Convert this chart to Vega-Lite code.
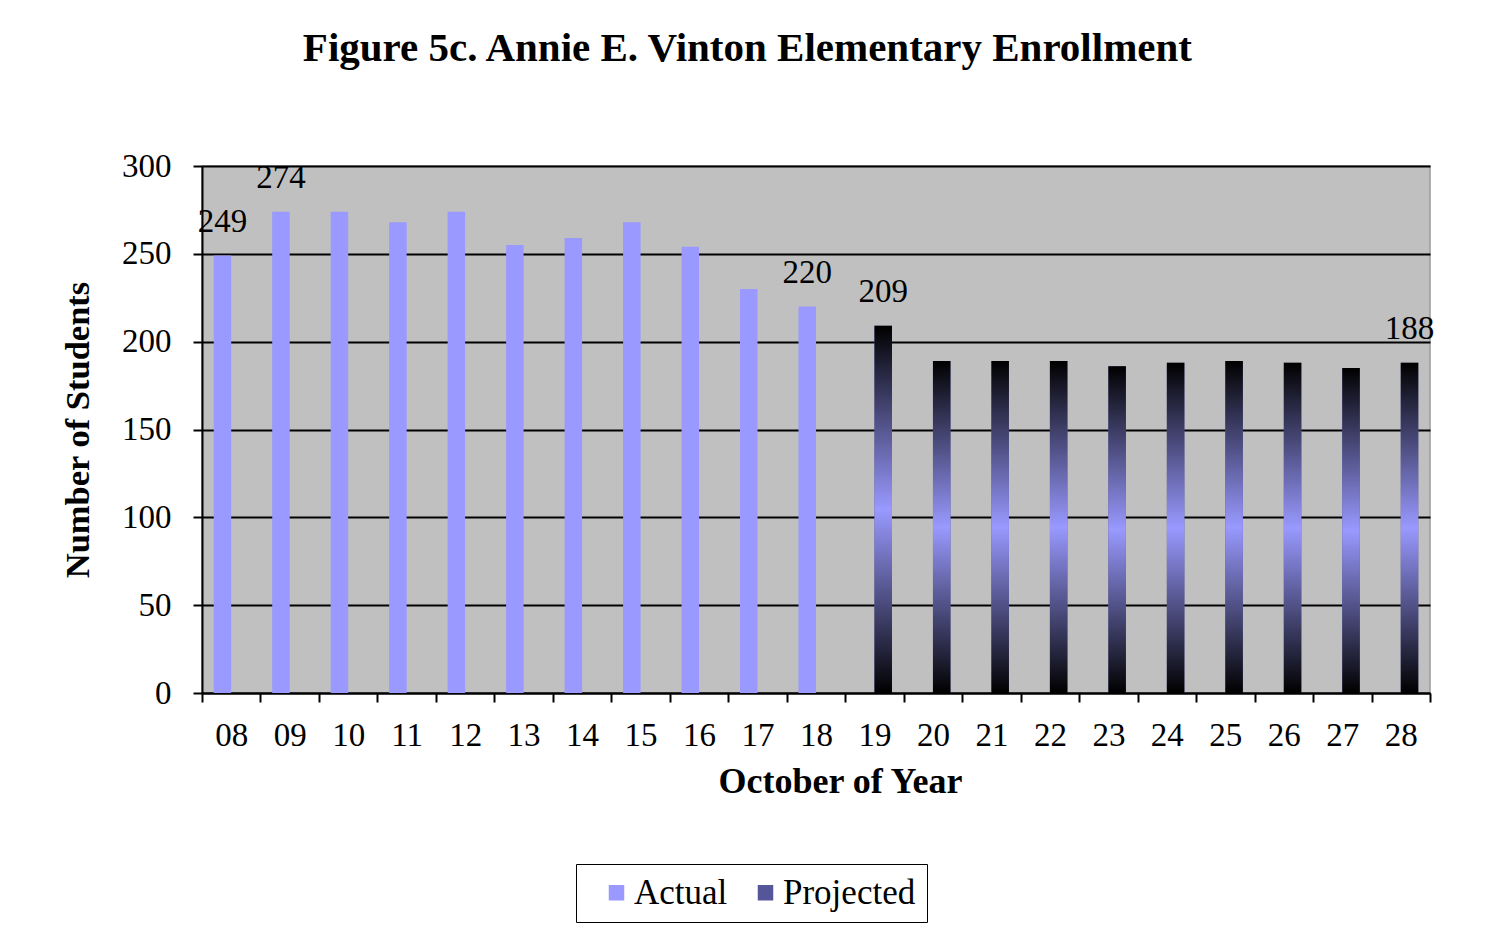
{
  "$schema": "https://vega.github.io/schema/vega-lite/v6.json",
  "width": 1228,
  "height": 527,
  "padding": {"left": 60, "top": 28, "right": 50, "bottom": 10},
  "background": "white",
  "title": {
    "text": "Figure 5c. Annie E. Vinton Elementary Enrollment",
    "font": "Liberation Serif",
    "fontSize": 41,
    "fontWeight": "bold",
    "color": "black",
    "anchor": "middle",
    "frame": "bounds",
    "offset": 80
  },
  "config": {
    "font": "Liberation Serif",
    "view": {"fill": "#C0C0C0", "stroke": "#9a9a9a", "strokeWidth": 1.5}
  },
  "data": {
    "values": [
      {"year": "08", "series": "Actual", "value": 249, "show": true},
      {"year": "09", "series": "Actual", "value": 274, "show": true},
      {"year": "10", "series": "Actual", "value": 274, "show": false},
      {"year": "11", "series": "Actual", "value": 268, "show": false},
      {"year": "12", "series": "Actual", "value": 274, "show": false},
      {"year": "13", "series": "Actual", "value": 255, "show": false},
      {"year": "14", "series": "Actual", "value": 259, "show": false},
      {"year": "15", "series": "Actual", "value": 268, "show": false},
      {"year": "16", "series": "Actual", "value": 254, "show": false},
      {"year": "17", "series": "Actual", "value": 230, "show": false},
      {"year": "18", "series": "Actual", "value": 220, "show": true},
      {"year": "19", "series": "Projected", "value": 209, "show": true},
      {"year": "20", "series": "Projected", "value": 189, "show": false},
      {"year": "21", "series": "Projected", "value": 189, "show": false},
      {"year": "22", "series": "Projected", "value": 189, "show": false},
      {"year": "23", "series": "Projected", "value": 186, "show": false},
      {"year": "24", "series": "Projected", "value": 188, "show": false},
      {"year": "25", "series": "Projected", "value": 189, "show": false},
      {"year": "26", "series": "Projected", "value": 188, "show": false},
      {"year": "27", "series": "Projected", "value": 185, "show": false},
      {"year": "28", "series": "Projected", "value": 188, "show": true}
    ]
  },
  "encoding": {
    "x": {
      "field": "year",
      "type": "ordinal",
      "scale": {"paddingInner": 0, "paddingOuter": 0},
      "axis": {
        "title": "October of Year",
        "titleFontSize": 36,
        "titleFontWeight": "bold",
        "titleColor": "black",
        "titlePadding": 12,
        "titleX": 638,
        "labelFontSize": 33,
        "labelColor": "black",
        "labelAngle": 0,
        "labelPadding": 17,
        "tickBand": "extent",
        "tickColor": "black",
        "tickWidth": 2,
        "tickSize": 9,
        "domainColor": "black",
        "domainWidth": 2,
        "grid": false
      }
    },
    "xOffset": {
      "field": "series",
      "type": "nominal",
      "scale": {"domain": ["Actual", "Projected"], "paddingInner": 0, "paddingOuter": 0.67}
    },
    "y": {
      "field": "value",
      "type": "quantitative",
      "scale": {"domain": [0, 300]},
      "axis": {
        "title": "Number of Students",
        "titleFontSize": 34.5,
        "titleFontWeight": "bold",
        "titleColor": "black",
        "titlePadding": 26,
        "labelFontSize": 33,
        "labelColor": "black",
        "labelPadding": 22,
        "values": [0, 50, 100, 150, 200, 250, 300],
        "tickColor": "black",
        "tickWidth": 2,
        "tickSize": 9,
        "domainColor": "black",
        "domainWidth": 2,
        "grid": true,
        "gridColor": "black",
        "gridWidth": 2,
        "gridOpacity": 1
      }
    }
  },
  "layer": [
    {
      "mark": {"type": "bar"},
      "encoding": {
        "color": {
          "field": "series",
          "type": "nominal",
          "scale": {
            "domain": ["Actual", "Projected"],
            "range": ["#9999FF", "#55559a"]
          },
          "legend": {
            "title": null,
            "orient": "none",
            "direction": "horizontal",
            "legendX": 374,
            "legendY": 698,
            "strokeColor": "black",
            "padding": 11,
            "labelFontSize": 35,
            "labelColor": "black",
            "labelFont": "Liberation Serif",
            "symbolType": "square",
            "symbolSize": 240,
            "symbolStrokeWidth": 0,
            "symbolOpacity": 1,
            "symbolOffset": 12,
            "columnPadding": 8,
            "labelOffset": 0
          }
        }
      }
    },
    {
      "transform": [{"filter": "datum.series === 'Projected'"}],
      "mark": {
        "type": "bar",
        "fill": {"gradient": "linear", "x1": 0, "y1": 0, "x2": 0, "y2": 1,
          "stops": [
            {"offset": 0, "color": "#000000"},
            {"offset": 0.5, "color": "#9999FF"},
            {"offset": 1, "color": "#000000"}
          ]}
      },
      "encoding": {}
    },
    {
      "transform": [{"filter": "datum.show"}],
      "mark": {"type": "text", "baseline": "alphabetic", "dy": -24, "fontSize": 33, "color": "black", "font": "Liberation Serif"},
      "encoding": {
        "text": {"field": "value", "type": "quantitative"}
      }
    }
  ]
}
